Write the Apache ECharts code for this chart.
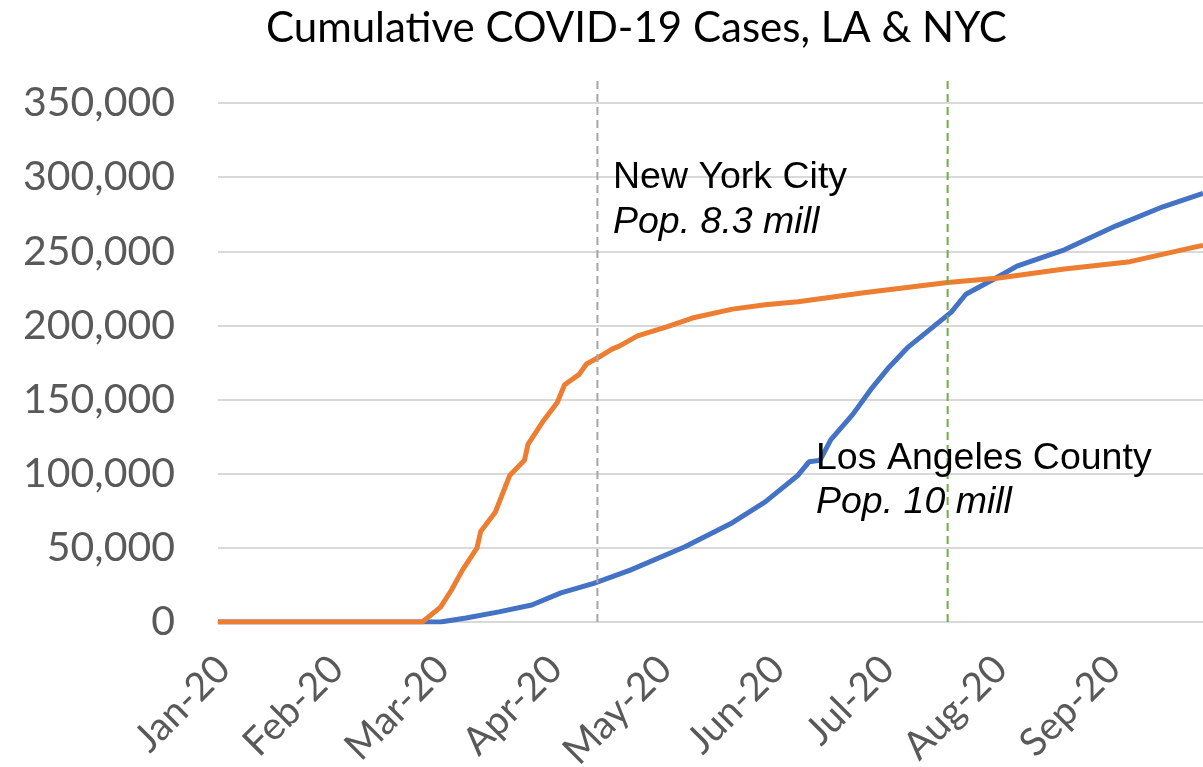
<!DOCTYPE html>
<html>
<head>
<meta charset="utf-8">
<title>Cumulative COVID-19 Cases, LA & NYC</title>
<script src="https://cdn.jsdelivr.net/npm/echarts@6/dist/echarts.min.js"></script>
<style>
  html, body { margin: 0; padding: 0; background: #fff; }
  #chart { width: 1203px; height: 767px; }
</style>
</head>
<body>
<div id="chart"></div>
<script>
// x axis tick labels, one per month start
const monthLabels = ['Jan-20', 'Feb-20', 'Mar-20', 'Apr-20', 'May-20', 'Jun-20', 'Jul-20', 'Aug-20', 'Sep-20']

// cumulative cases
const nycDates = ['2020-01-01', '2020-02-26', '2020-03-02', '2020-03-05', '2020-03-08', '2020-03-12',
  '2020-03-13', '2020-03-17', '2020-03-21', '2020-03-25', '2020-03-26', '2020-03-30', '2020-04-03',
  '2020-04-05', '2020-04-09', '2020-04-11', '2020-04-14', '2020-04-18', '2020-04-20', '2020-04-25',
  '2020-05-03', '2020-05-10', '2020-05-21', '2020-05-30', '2020-06-08', '2020-06-26', '2020-07-19',
  '2020-08-02', '2020-08-20', '2020-09-07', '2020-09-25', '2020-09-27']
const nycCases = [0, 0, 10000, 21600, 35000, 50000, 61000, 74000, 99000, 109000, 120000, 135000, 148000,
  160000, 167000, 174000, 178000, 184000, 186000, 193000, 199000, 205000, 211000, 214000, 216000, 222000,
  229000, 232000, 238000, 243000, 253000, 254000]

const laDates = ['2020-01-01', '2020-03-02', '2020-03-09', '2020-03-18', '2020-03-27', '2020-04-04',
  '2020-04-13', '2020-04-23', '2020-05-08', '2020-05-21', '2020-05-30', '2020-06-08', '2020-06-11',
  '2020-06-14', '2020-06-17', '2020-06-23', '2020-06-28', '2020-07-03', '2020-07-08', '2020-07-14',
  '2020-07-20', '2020-07-24', '2020-08-02', '2020-08-07', '2020-08-20', '2020-09-03', '2020-09-16',
  '2020-09-27']
const laCases = [0, 0, 2700, 6800, 11500, 19600, 26000, 35000, 50700, 67000, 81000, 99000, 108000,
  109000, 123000, 140000, 157000, 172000, 185000, 197000, 209000, 221000, 233000, 240000, 251000,
  267000, 280000, 289000]

// vertical reference dates
const nycMarkDate = '2020-04-14'
const laMarkDate = '2020-07-19'
const markTop = 365000

const toTime = s => new Date(s + 'T00:00:00').getTime()
const pairs = (dates, vals) => dates.map((d, i) => [toTime(d), vals[i]])
const DAY = 86400000

const chart = echarts.init(document.getElementById('chart'))

const noteText = { fontFamily: 'Liberation Sans', fontSize: 37.5, fontWeight: 'normal', color: '#000' }
const noteSub = { fontFamily: 'Liberation Sans', fontSize: 37.5, fontStyle: 'italic', color: '#000' }

chart.setOption({
  animation: false,
  title: [
    {
      text: 'Cumulative COVID-19 Cases, LA & NYC',
      left: 266, top: 7, padding: 0,
      textStyle: { fontFamily: 'Lato', fontSize: 42, fontWeight: 'normal', color: '#000' }
    },
    {
      text: 'New York City',
      subtext: 'Pop. 8.3 mill',
      left: 613, top: 159, padding: 0, itemGap: 7,
      textStyle: noteText,
      subtextStyle: noteSub
    },
    {
      text: 'Los Angeles County',
      subtext: 'Pop. 10 mill',
      left: 816, top: 440, padding: 0, itemGap: 6,
      textStyle: noteText,
      subtextStyle: noteSub
    }
  ],
  grid: { left: 218, right: 0, top: 103, bottom: 145, containLabel: false, outerBoundsMode: 'none' },
  xAxis: {
    type: 'time',
    min: toTime('2020-01-01'),
    max: toTime('2020-09-27'),
    splitNumber: 9,
    minInterval: 28 * DAY,
    maxInterval: 31 * DAY,
    axisLine: { lineStyle: { color: '#D9D9D9', width: 2 } },
    axisTick: { show: false },
    splitLine: { show: false },
    axisLabel: {
      rotate: 45,
      margin: 35,
      padding: [16, 0, 0, 0],
      fontFamily: 'Lato',
      fontSize: 39,
      color: '#595959',
      formatter: v => monthLabels[new Date(v).getMonth()] || ''
    }
  },
  yAxis: {
    type: 'value',
    min: 0,
    max: 350000,
    interval: 50000,
    axisLine: { show: false },
    axisTick: { show: false },
    splitLine: { lineStyle: { color: '#D9D9D9', width: 2 } },
    axisLabel: {
      margin: 43,
      fontFamily: 'Lato',
      fontSize: 41,
      color: '#595959',
      formatter: v => v.toLocaleString('en-US')
    }
  },
  series: [
    {
      name: 'Los Angeles County',
      type: 'line',
      data: pairs(laDates, laCases),
      showSymbol: false,
      lineStyle: { color: '#4472C4', width: 5 },
      itemStyle: { color: '#4472C4' },
      z: 2
    },
    {
      name: 'New York City',
      type: 'line',
      data: pairs(nycDates, nycCases),
      showSymbol: false,
      lineStyle: { color: '#ED7D31', width: 5 },
      itemStyle: { color: '#ED7D31' },
      z: 3
    },
    {
      name: 'NYC mark',
      type: 'line',
      data: [[toTime(nycMarkDate), 0], [toTime(nycMarkDate), markTop]],
      showSymbol: false,
      clip: false,
      lineStyle: { color: '#A6A6A6', width: 2, type: [8, 5] },
      z: 4
    },
    {
      name: 'LA mark',
      type: 'line',
      data: [[toTime(laMarkDate), 0], [toTime(laMarkDate), markTop]],
      showSymbol: false,
      clip: false,
      lineStyle: { color: '#70AD47', width: 2, type: [8, 5] },
      z: 4
    }
  ]
})
</script>
</body>
</html>
